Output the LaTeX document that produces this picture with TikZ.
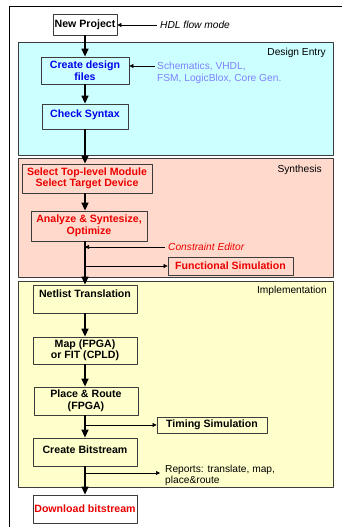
\documentclass[tikz,border=0pt]{standalone}
\usepackage{fontspec}
\setmainfont{Liberation Sans}
\usetikzlibrary{arrows.meta}
\definecolor{entrycol}{RGB}{204,255,255}
\definecolor{synthcol}{RGB}{255,218,204}
\definecolor{implcol}{RGB}{255,255,204}
\definecolor{boxline}{RGB}{60,60,60}
\definecolor{stepblue}{RGB}{0,0,235}
\definecolor{noteblue}{RGB}{128,128,255}
\definecolor{stepred}{RGB}{235,0,0}
\begin{document}
\begin{tikzpicture}[x=1pt, y=-1pt, font=\fontsize{10.2}{11.5}\selectfont, line join=round,
	panel/.style={draw=boxline, line width=.8pt},
	stepbox/.style={draw=boxline, line width=.8pt, font=\fontsize{10.6}{11.5}\selectfont\bfseries, align=center, inner sep=0pt},
	flow/.style={line width=1.4pt, -{Triangle[length=8pt,width=7pt]}},
	side/.style={line width=.7pt, -{Triangle[length=4pt,width=4pt]}},
	note/.style={font=\fontsize{10.2}{11.5}\selectfont, align=left, inner sep=0pt, anchor=west}]
	\useasboundingbox (0,0) rectangle (342,527);
	\clip (0,0) rectangle (342,527);
	\draw[line width=.8pt] (9,540) -- (9,6) -- (350,6);
	% the three stages
	\filldraw[panel, fill=entrycol] (18,42) rectangle (333,155);
	\filldraw[panel, fill=synthcol] (18,158) rectangle (333,277);
	\filldraw[panel, fill=implcol] (18,281) rectangle (333,487);
	\node[anchor=east, inner sep=0pt] (entry) at (326,53) {Design Entry};
	\node[anchor=east, inner sep=0pt] (synth) at (322,170) {Synthesis};
	\node[anchor=east, inner sep=0pt] (impl) at (327,291) {Implementation};
	% steps
	\node[stepbox, fill=white, minimum width=64pt, minimum height=21pt] (proj) at (85,24.5) {New Project};
	\node[stepbox, text=stepblue, minimum width=88pt, minimum height=27pt] (create) at (85,70.5) {Create design\\files};
	\node[stepbox, text=stepblue, minimum width=86pt, minimum height=25pt, text depth=5pt] (check) at (85,116.5) {Check Syntax};
	\node[stepbox, text=stepred, minimum width=130pt, minimum height=29pt] (select) at (87,178.5) {Select Top-level Module\\Select Target Device};
	\node[stepbox, text=stepred, minimum width=116pt, minimum height=30pt] (analyze) at (89,226) {Analyze \& Syntesize,\\Optimize};
	\node[stepbox, text=stepred, minimum width=125pt, minimum height=18pt] (funcsim) at (230.5,266) {Functional Simulation};
	\node[stepbox, minimum width=104pt, minimum height=28pt, text depth=10pt] (netlist) at (85,299) {Netlist Translation};
	\node[stepbox, minimum width=104pt, minimum height=27pt] (map) at (85,350.5) {Map (FPGA)\\or FIT (CPLD)};
	\node[stepbox, minimum width=104pt, minimum height=28pt] (place) at (86,401) {Place \& Route\\(FPGA)};
	\node[stepbox, minimum width=110pt, minimum height=16pt] (timing) at (212,425) {Timing Simulation};
	\node[stepbox, minimum width=104pt, minimum height=28pt, text depth=4pt] (bitstr) at (85,452) {Create Bitstream};
	\node[stepbox, text=stepred, fill=white, minimum width=104pt, minimum height=28pt] (download) at (85,509) {Download bitstream};
	% side notes
	\node[note, font=\fontsize{10.2}{11.5}\selectfont\itshape] (hdl) at (160,25) {HDL flow mode};
	\node[note, text=noteblue, anchor=north west] (srcs) at (157,62) {Schematics, VHDL,\\FSM, LogicBlox, Core Gen.};
	\node[note, text=stepred, font=\fontsize{10.2}{11.5}\selectfont\itshape] (constr) at (168,247) {Constraint Editor};
	\node[note, anchor=north west] (reports) at (165,464.5) {Reports: translate, map,\\place\&route};
	% main flow
	\coordinate (spine) at (85,0);
	\foreach \a/\b in {proj/create, create/check, check/select, select/analyze, analyze/netlist, netlist/map, map/place, place/bitstr, bitstr/download}
		\draw[flow] (\a.south -| spine) -- (\b.north -| spine);
	% side arrows
	\coordinate (srcin) at (155,66);
	\coordinate (repin) at (160,473);
	\draw[side, shorten <=3pt] (hdl.west) -- (hdl.west -| proj.east);
	\draw[side] (srcin) -- (srcin -| create.east);
	\draw[side, shorten <=3pt] (constr.west) -- (constr.west -| spine);
	\draw[side] (funcsim.west -| spine) -- (funcsim.west);
	\draw[side] (timing.west -| spine) -- (timing.west);
	\draw[side] (repin -| spine) -- (repin);
\end{tikzpicture}
\end{document}
